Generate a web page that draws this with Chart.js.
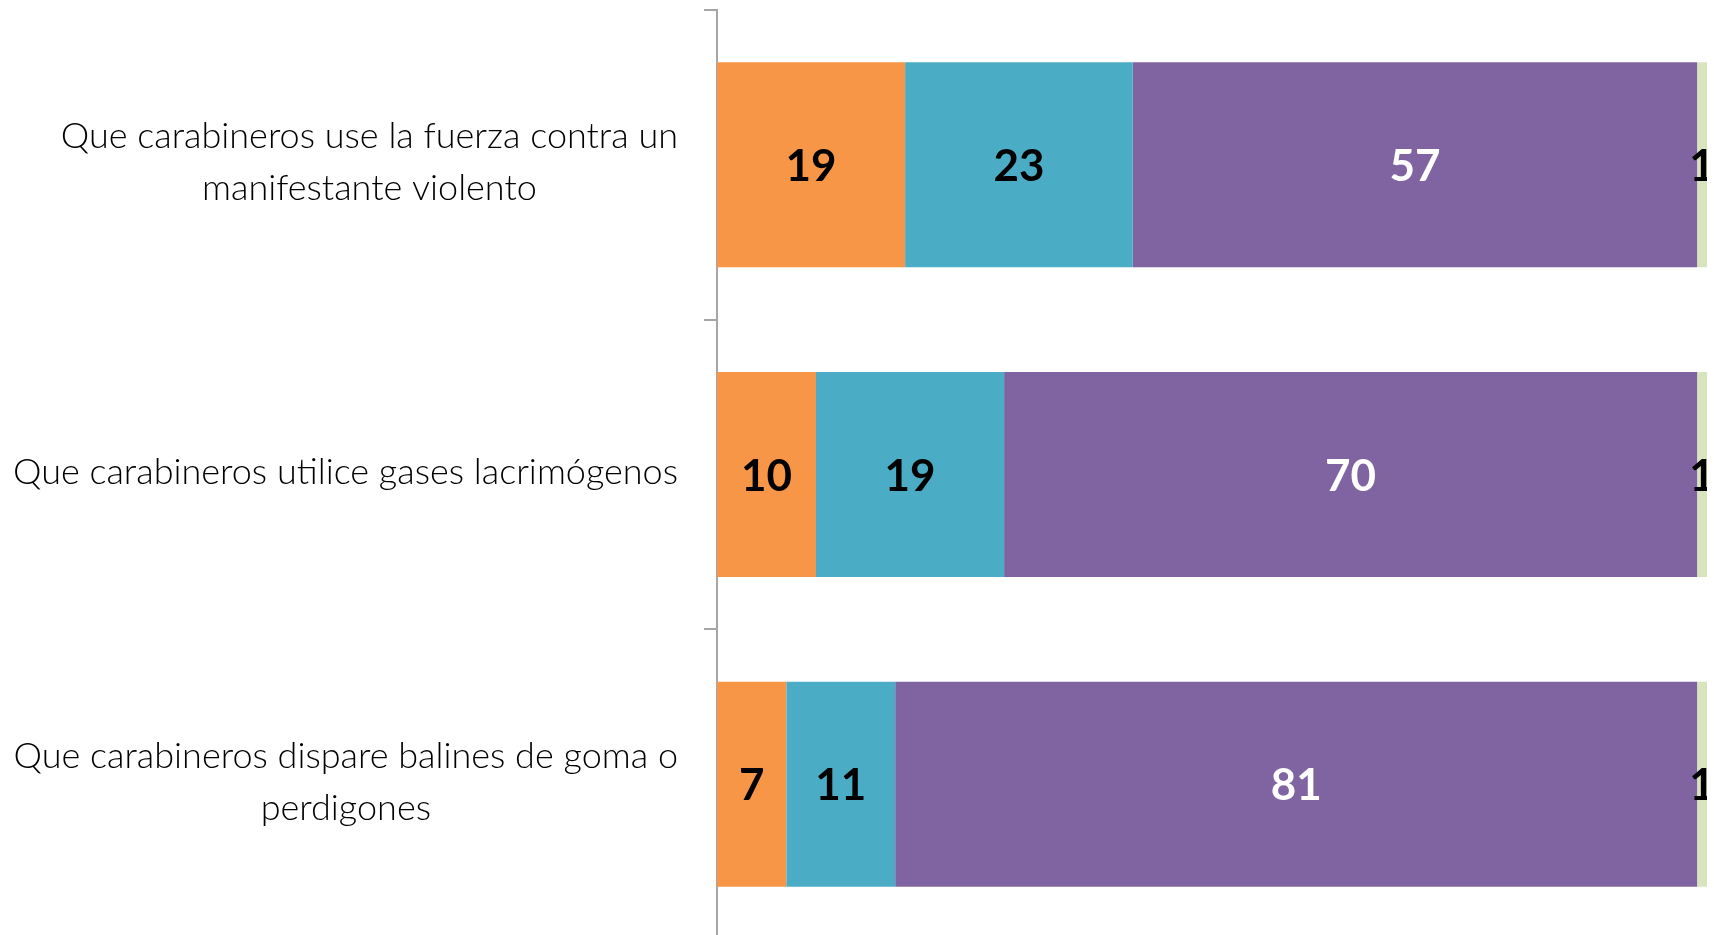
<!DOCTYPE html>
<html>
<head>
<meta charset="utf-8">
<script src="https://cdn.jsdelivr.net/npm/chart.js@4.4.1/dist/chart.umd.min.js"></script>
<style>
  html, body { margin: 0; padding: 0; background: #fff; overflow: hidden; }
  #wrap { position: relative; width: 1714px; height: 939px; }
</style>
</head>
<body>
<div id="wrap"><canvas id="stackchart"></canvas></div>
<script>
// categories (multi-line labels)
const categories = [
  ['Que carabineros use la fuerza contra un', 'manifestante violento'],
  ['Que carabineros utilice gases lacrimógenos'],
  ['Que carabineros dispare balines de goma o', 'perdigones']
];
// series values (percent)
const seriesA = [19, 10, 7];
const seriesB = [23, 19, 11];
const seriesC = [57, 70, 81];
const seriesD = [1, 1, 1];

const colors = ['#F79646', '#4BACC6', '#8064A2', '#D7E4BD'];
const labelColors = ['#000', '#000', '#fff', '#000'];

// draws the value inside each segment
const segmentLabels = {
  id: 'segmentLabels',
  afterDatasetsDraw(chart) {
    const c = chart.ctx, a = chart.chartArea;
    c.save();
    c.beginPath();
    c.rect(a.left, a.top, a.right - a.left, a.bottom - a.top);
    c.clip();
    c.font = 'bold 44px Lato';
    c.textAlign = 'center';
    c.textBaseline = 'middle';
    chart.data.datasets.forEach((ds, i) => {
      chart.getDatasetMeta(i).data.forEach((bar, j) => {
        c.fillStyle = labelColors[i];
        c.fillText(ds.data[j], (bar.base + bar.x) / 2, bar.y + 2);
      });
    });
    c.restore();
  }
};

// category labels, lines centred within each block
const categoryLabels = {
  id: 'categoryLabels',
  afterDraw(chart) {
    const c = chart.ctx, y = chart.scales.y;
    const rightEdge = chart.chartArea.left - 39;
    const lineH = 52;
    c.save();
    c.font = '300 36px Lato';
    c.fillStyle = '#000';
    c.textAlign = 'center';
    c.textBaseline = 'middle';
    categories.forEach((lines, i) => {
      const w = Math.max(...lines.map(l => c.measureText(l).width));
      const cx = rightEdge - w / 2;
      const cy = y.getPixelForValue(i);
      lines.forEach((l, k) => {
        c.fillText(l, cx, cy + (k - (lines.length - 1) / 2) * lineH - 2);
      });
    });
    c.restore();
  }
};

document.addEventListener("DOMContentLoaded", function () {
  const ctx = document.getElementById('stackchart');
  new Chart(ctx, {
    type: 'bar',
    data: {
      labels: categories,
      datasets: [seriesA, seriesB, seriesC, seriesD].map((d, i) => ({
        data: d,
        backgroundColor: colors[i],
        borderWidth: 0,
        barPercentage: 0.662,
        categoryPercentage: 1
      }))
    },
    options: {
      indexAxis: 'y',
      responsive: true,
      maintainAspectRatio: false,
      animation: false,
      layout: { padding: { top: 10, right: 7, bottom: 0, left: 0 } },
      plugins: { legend: { display: false }, tooltip: { enabled: false } },
      scales: {
        x: {
          stacked: true,
          min: 0,
          max: 100,
          display: false
        },
        y: {
          stacked: true,
          offset: true,
          afterFit(scale) { scale.width = 717; },
          border: { display: true, color: '#A6A6A6', width: 2 },
          grid: {
            offset: true,
            drawOnChartArea: false,
            drawTicks: true,
            tickLength: 13,
            color: '#A6A6A6',
            lineWidth: 2
          },
          ticks: { display: false }
        }
      }
    },
    plugins: [segmentLabels, categoryLabels]
  });
});
</script>
</body>
</html>
